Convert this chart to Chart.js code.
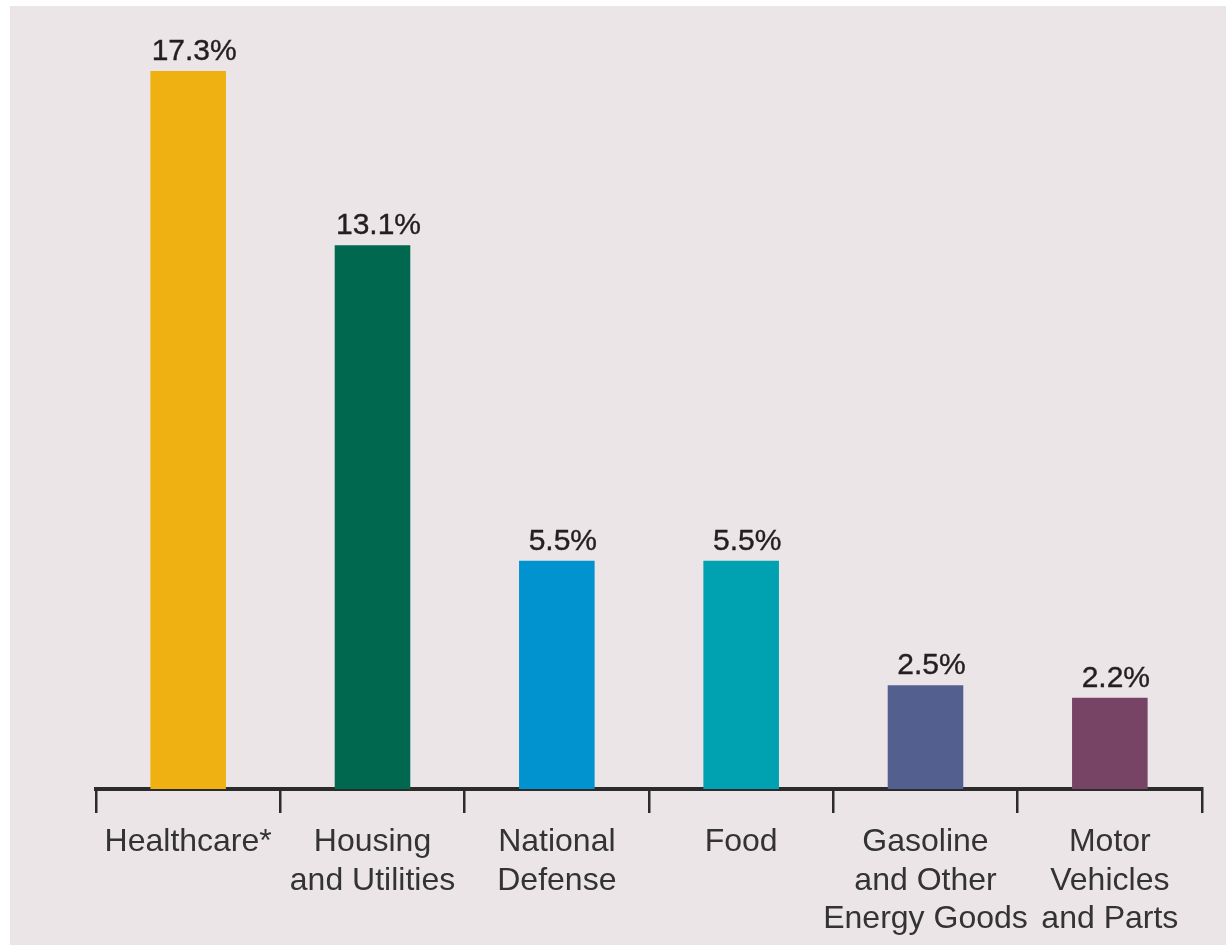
<!DOCTYPE html>
<html>
<head>
<meta charset="utf-8">
<script src="https://cdn.jsdelivr.net/npm/chart.js@4/dist/chart.umd.min.js"></script>
<style>
  html, body { margin: 0; padding: 0; background: #ffffff; }
  #panel { position: absolute; left: 10px; top: 6px; width: 1216px; height: 939px; background: #ebe5e8; }
  #chart { display: block; }
</style>
</head>
<body>
<div id="panel"><canvas id="chart" width="1216" height="939"></canvas></div>
<script>
// Share of spending by category (percent)
const categories = [
  ['Healthcare*'],
  ['Housing', 'and Utilities'],
  ['National', 'Defense'],
  ['Food'],
  ['Gasoline', 'and Other', 'Energy Goods'],
  ['Motor', 'Vehicles', 'and Parts']
];
const shares = [17.3, 13.1, 5.5, 5.5, 2.5, 2.2];
const barColors = ['#eeb111', '#00684f', '#0093d0', '#00a1b0', '#535f8e', '#774466'];

const FONT = "'Liberation Sans', Arial, sans-serif";
const AXIS_COLOR = '#2b2b2b';

// Writes the value above each bar
const valueLabels = {
  id: 'valueLabels',
  afterDatasetsDraw(chart) {
    const ctx = chart.ctx;
    const meta = chart.getDatasetMeta(0);
    ctx.save();
    ctx.font = '30px ' + FONT;
    ctx.fillStyle = '#231f20';
    ctx.strokeStyle = '#231f20';
    ctx.lineWidth = 0.4;
    ctx.textAlign = 'center';
    ctx.textBaseline = 'alphabetic';
    meta.data.forEach((bar, i) => {
      const txt = shares[i].toFixed(1) + '%';
      ctx.fillText(txt, bar.x + 6, bar.y - 11);
      ctx.strokeText(txt, bar.x + 6, bar.y - 11);
    });
    ctx.restore();
  }
};

new Chart(document.getElementById('chart'), {
  type: 'bar',
  data: {
    labels: categories,
    datasets: [{
      data: shares,
      backgroundColor: barColors,
      borderWidth: 0,
      categoryPercentage: 1,
      barPercentage: 0.41
    }]
  },
  options: {
    responsive: false,
    devicePixelRatio: 1,
    animation: false,
    layout: { padding: { left: 86, right: 24, top: 36, bottom: 0 } },
    plugins: { legend: { display: false }, tooltip: { enabled: false } },
    scales: {
      y: {
        display: false,
        min: 0,
        max: 18
      },
      x: {
        offset: true,
        afterFit(scale) { scale.height = 156; },
        border: { display: true, color: AXIS_COLOR, width: 4 },
        grid: {
          display: true,
          offset: true,
          drawOnChartArea: false,
          drawTicks: true,
          tickLength: 24,
          color: AXIS_COLOR,
          lineWidth: 2.5
        },
        ticks: {
          autoSkip: false,
          maxRotation: 0,
          minRotation: 0,
          padding: 10,
          color: '#333333',
          font: { family: FONT, size: 32, lineHeight: '38.5px' }
        }
      }
    }
  },
  plugins: [valueLabels]
});
</script>
</body>
</html>
